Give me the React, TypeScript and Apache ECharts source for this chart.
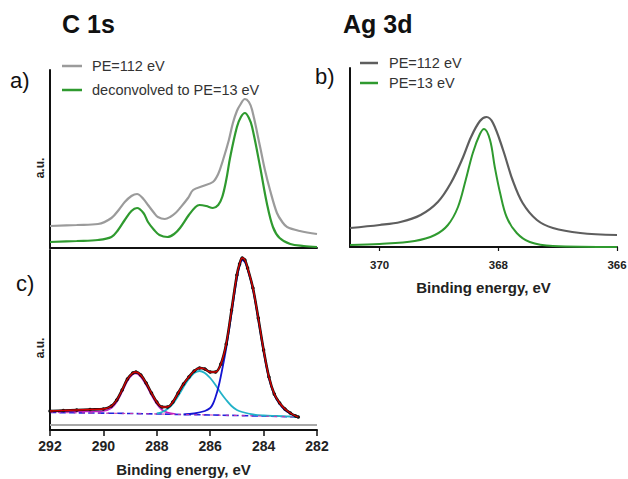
import React, { useEffect, useRef } from "react";
import * as echarts from "echarts";

// Panel a: C 1s spectra (binding energy eV, intensity a.u.)
const c1sRaw: [number, number][] = [
  [292, 22], [291, 23], [290.2, 24], [289.7, 30], [289.4, 39], [289.2, 46], [288.95, 52], [288.74, 54],
  [288.5, 49], [288.33, 43], [288.1, 35], [287.96, 31], [287.7, 29], [287.5, 31], [287.3, 35], [287.13, 40],
  [286.83, 50], [286.64, 58], [286.27, 62], [285.9, 66], [285.7, 74], [285.52, 88], [285.3, 108], [285.15, 125],
  [285.0, 137], [284.88, 143], [284.7, 149], [284.55, 146], [284.43, 138], [284.13, 101], [283.95, 78],
  [283.76, 58], [283.5, 35], [283.3, 26], [283.12, 21], [282.64, 17], [282, 14],
];
const c1sDeconv: [number, number][] = [
  [292, 6], [291, 7], [290.2, 8], [289.7, 11], [289.45, 18], [289.2, 28], [288.95, 37], [288.74, 40],
  [288.5, 35], [288.33, 26], [288.1, 18], [287.9, 13], [287.6, 11], [287.35, 14], [287.13, 20], [286.8, 33],
  [286.55, 41], [286.4, 43], [286.15, 42], [285.9, 40], [285.7, 43], [285.55, 51], [285.4, 68], [285.25, 91],
  [285.0, 121], [284.85, 131], [284.7, 135], [284.55, 130], [284.43, 121], [284.13, 81], [283.88, 45],
  [283.65, 21], [283.4, 10], [283.0, 4], [282.5, 2], [282, 1],
];

// Panel c: C 1s fit
const fitData: [number, number][] = [
  [292.0, 19], [291.5, 19.5], [291.0, 20], [290.5, 20.5], [290.0, 21], [289.7, 24], [289.5, 30], [289.3, 40],
  [289.1, 51], [288.9, 57], [288.78, 58], [288.6, 55], [288.4, 47], [288.2, 37], [288.0, 28], [287.8, 23],
  [287.6, 23], [287.4, 28], [287.2, 37], [287.0, 46], [286.8, 53], [286.6, 59], [286.4, 62], [286.2, 61],
  [286.0, 58], [285.8, 58], [285.6, 66], [285.4, 86], [285.2, 120], [285.0, 155], [284.9, 166], [284.8, 172],
  [284.7, 170], [284.6, 162], [284.4, 142], [284.2, 112], [284.0, 80], [283.8, 53], [283.6, 36], [283.4, 27],
  [283.2, 21], [283.0, 17], [282.8, 14], [282.7, 13],
];
const fitBackground: [number, number][] = [
  [292, 17.5], [289, 16.5], [287, 15.5], [285, 14.5], [282.7, 13],
];
const compMagenta: [number, number][] = [
  [292, 18.5], [290.5, 18.5], [290.0, 19], [289.7, 22], [289.5, 28], [289.3, 38], [289.1, 49], [288.9, 55.5],
  [288.78, 56.5], [288.6, 53], [288.4, 45], [288.2, 35], [288.0, 26], [287.8, 20], [287.6, 17.5], [287.3, 16],
];
const compCyan: [number, number][] = [
  [288.0, 16.5], [287.8, 18], [287.6, 21], [287.4, 26], [287.2, 34], [287.0, 43], [286.8, 51], [286.6, 57],
  [286.4, 59], [286.2, 57], [286.0, 52], [285.8, 45], [285.6, 37], [285.4, 30], [285.2, 24], [285.0, 20],
  [284.8, 18], [284.4, 15.5], [284.0, 14.5], [283.5, 14], [283.0, 13.5], [282.7, 13],
];
const compBlue: [number, number][] = [
  [287.0, 15.5], [286.6, 16.5], [286.2, 19], [286.0, 22], [285.9, 26], [285.8, 33], [285.7, 42], [285.6, 54],
  [285.4, 82], [285.2, 117], [285.0, 152], [284.9, 164], [284.8, 170], [284.7, 168], [284.6, 161], [284.4, 141],
  [284.2, 111], [284.0, 79], [283.8, 52], [283.6, 35], [283.4, 26], [283.2, 20], [283.0, 16.5], [282.8, 14],
  [282.7, 13],
];
const residualLine: [number, number][] = [[292, 5], [282, 5]];

// Panel b: Ag 3d
const ag112: [number, number][] = [
  [370.5, 19], [370.0, 22], [369.65, 25], [369.31, 32], [369.02, 45], [368.8, 64], [368.6, 89], [368.46, 110],
  [368.31, 126], [368.2, 130], [368.09, 124], [367.92, 97], [367.76, 67], [367.59, 44], [367.35, 27],
  [367.08, 19], [366.62, 14], [366.0, 12],
];
const ag13: [number, number][] = [
  [370.5, 2], [370.0, 3], [369.41, 6], [369.07, 12], [368.85, 22], [368.68, 40], [368.55, 67], [368.43, 94],
  [368.31, 113], [368.24, 118], [368.14, 107], [368.06, 80], [367.97, 54], [367.86, 30], [367.69, 14],
  [367.47, 5], [367.08, 1], [366.0, 0],
];

const xTicksC = [292, 290, 288, 286, 284, 282];
const xTicksB = [370, 368, 366];

const FONT = "'Liberation Sans', Arial, sans-serif";
const GRAY_A = "#9b9b9b";
const GRAY_B = "#5e5e5e";
const GREEN = "#2f9a2f";

export default function App() {
  const ref = useRef<HTMLDivElement>(null);
  useEffect(() => {
    document.body.style.margin = "0";
    const chart = echarts.init(ref.current!, null, { renderer: "svg" });
    const axisLine = { show: true, lineStyle: { color: "#111", width: 2 } };
    const line = (
      name: string,
      data: [number, number][],
      color: string,
      idx: number,
      width = 2,
      extra: any = {}
    ) => ({
      name,
      type: "line",
      xAxisIndex: idx,
      yAxisIndex: idx,
      data,
      smooth: 0.35,
      symbol: "none",
      lineStyle: { color, width },
      itemStyle: { color },
      z: 3,
      ...extra,
    });
    const option: any = {
      animation: false,
      backgroundColor: "#fff",
      textStyle: { fontFamily: FONT },
      grid: [
        { left: 50, top: 70, width: 267, height: 178, outerBoundsMode: "none" },
        { left: 50, top: 250, width: 267, height: 180, outerBoundsMode: "none" },
        { left: 350, top: 68, width: 267, height: 179, outerBoundsMode: "none" },
      ],
      xAxis: [
        {
          gridIndex: 0, type: "value", min: 282, max: 292, inverse: true,
          axisLine, axisTick: { show: false }, axisLabel: { show: false }, splitLine: { show: false },
        },
        {
          gridIndex: 1, type: "value", min: 282, max: 292, interval: 2, inverse: true,
          axisLine, axisTick: { show: true, length: 6, lineStyle: { color: "#111", width: 1.5 } },
          axisLabel: {
            fontSize: 14, fontWeight: "bold", color: "#222", margin: 9, fontFamily: FONT,
            formatter: (v: number) => (xTicksC.includes(v) ? String(v) : ""),
          },
          splitLine: { show: false },
          name: "Binding energy, eV", nameLocation: "middle", nameGap: 32,
          nameTextStyle: { fontSize: 15, fontWeight: "bold", color: "#222", fontFamily: FONT },
        },
        {
          gridIndex: 2, type: "value", min: 366, max: 370.5, interval: 2, inverse: true,
          axisLine, axisTick: { show: true, length: 4, lineStyle: { color: "#111", width: 1.2 } },
          axisLabel: {
            fontSize: 11.5, fontWeight: "bold", color: "#222", margin: 12, fontFamily: FONT,
            showMaxLabel: false,
            formatter: (v: number) => (xTicksB.includes(v) ? String(v) : ""),
          },
          splitLine: { show: false },
          name: "Binding energy, eV", nameLocation: "middle", nameGap: 33,
          nameTextStyle: { fontSize: 15, fontWeight: "bold", color: "#222", fontFamily: FONT },
        },
      ],
      yAxis: [
        { gridIndex: 0, type: "value", min: 0, max: 178, axisLine, axisTick: { show: false }, axisLabel: { show: false }, splitLine: { show: false } },
        { gridIndex: 1, type: "value", min: 0, max: 180, axisLine, axisTick: { show: false }, axisLabel: { show: false }, splitLine: { show: false } },
        { gridIndex: 2, type: "value", min: 0, max: 179, axisLine, axisTick: { show: false }, axisLabel: { show: false }, splitLine: { show: false } },
      ],
      series: [
        line("PE=112 eV (C 1s)", c1sRaw, GRAY_A, 0, 2.2),
        line("deconvolved to PE=13 eV", c1sDeconv, GREEN, 0, 2.2),
        line("residual", residualLine, "#a8a8a8", 1, 2.2, { smooth: false }),
        line("background", fitBackground, "#2222dd", 1, 1.6, { lineStyle: { color: "#2222dd", width: 1.6, type: "dashed" } }),
        line("background 2", fitBackground, "#cc33aa", 1, 1, { lineStyle: { color: "#cc33aa", width: 1, type: [3, 5] }, z: 4 }),
        line("C=O/O-C=O", compMagenta, "#c21fc2", 1, 1.6),
        line("C-O", compCyan, "#22b2c8", 1, 1.8),
        line("C-C", compBlue, "#1414d2", 1, 1.8),
        line("data", fitData, "#111", 1, 2.6, {
          symbol: "circle", symbolSize: 3.5, showSymbol: true, itemStyle: { color: "#111" }, z: 4,
        }),
        line("fit", fitData, "#d80000", 1, 1.3, { z: 5 }),
        line("PE=112 eV (Ag 3d)", ag112, GRAY_B, 2, 2.2),
        line("PE=13 eV", ag13, GREEN, 2, 2),
      ],
      graphic: [
        { type: "text", left: 62, top: 11, style: { text: "C 1s", font: `bold 25px ${FONT}`, fill: "#111" } },
        { type: "text", left: 343, top: 11, style: { text: "Ag 3d", font: `bold 25px ${FONT}`, fill: "#111" } },
        { type: "text", x: 10, y: 80, style: { text: "a)", font: `22px ${FONT}`, fill: "#111", verticalAlign: "middle" } },
        { type: "text", x: 315, y: 76, style: { text: "b)", font: `22px ${FONT}`, fill: "#111", verticalAlign: "middle" } },
        { type: "text", x: 16, y: 283, style: { text: "c)", font: `22px ${FONT}`, fill: "#111", verticalAlign: "middle" } },
        { type: "text", x: 40, y: 168, rotation: Math.PI / 2, style: { text: "a.u.", font: `bold 12px ${FONT}`, fill: "#222", align: "center", verticalAlign: "middle" } },
        { type: "text", x: 40, y: 348, rotation: Math.PI / 2, style: { text: "a.u.", font: `bold 12px ${FONT}`, fill: "#222", align: "center", verticalAlign: "middle" } },
        { type: "line", shape: { x1: 62, y1: 66, x2: 82, y2: 66 }, style: { stroke: GRAY_A, lineWidth: 2.5 } },
        { type: "text", x: 92, y: 66, style: { text: "PE=112 eV", font: `14.5px ${FONT}`, fill: "#333", verticalAlign: "middle" } },
        { type: "line", shape: { x1: 62, y1: 90, x2: 82, y2: 90 }, style: { stroke: GREEN, lineWidth: 2.5 } },
        { type: "text", x: 92, y: 90, style: { text: "deconvolved to PE=13 eV", font: `14.5px ${FONT}`, fill: "#333", verticalAlign: "middle" } },
        { type: "line", shape: { x1: 360, y1: 63, x2: 378, y2: 63 }, style: { stroke: GRAY_B, lineWidth: 2.5 } },
        { type: "text", x: 389, y: 63, style: { text: "PE=112 eV", font: `14.5px ${FONT}`, fill: "#333", verticalAlign: "middle" } },
        { type: "line", shape: { x1: 360, y1: 83, x2: 378, y2: 83 }, style: { stroke: GREEN, lineWidth: 2.5 } },
        { type: "text", x: 389, y: 83, style: { text: "PE=13 eV", font: `14.5px ${FONT}`, fill: "#333", verticalAlign: "middle" } },
      ],
    };
    chart.setOption(option);
    return () => chart.dispose();
  }, []);
  return <div ref={ref} style={{ width: 628, height: 479 }} />;
}
